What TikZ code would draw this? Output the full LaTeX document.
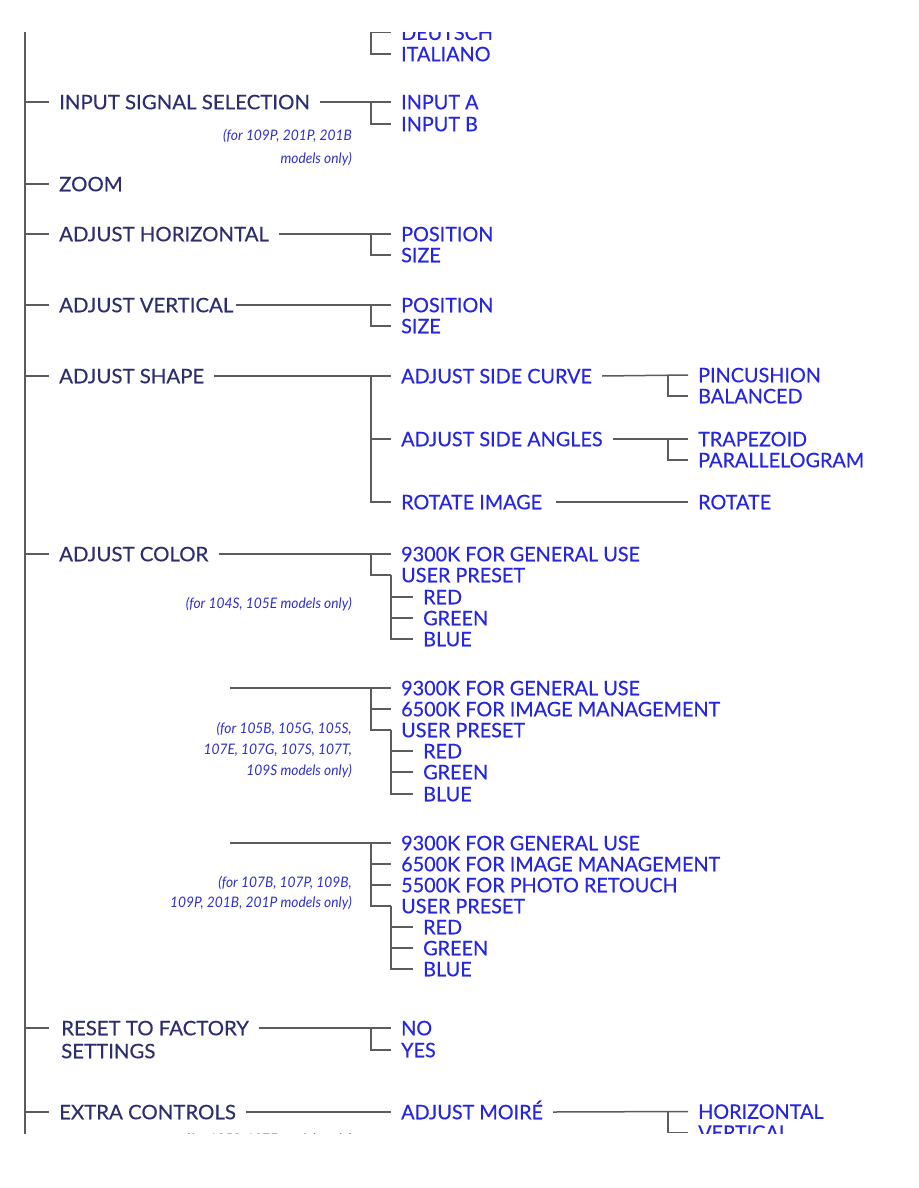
\documentclass[tikz,border=0pt]{standalone}
\usepackage{fontspec}
\setmainfont{Lato}
\newfontfamily\mainlblfont{Lato}[FakeStretch=1.02,FakeBold=0.35]
\newfontfamily\sublblfont{Lato}[FakeStretch=0.99,FakeBold=0.35]
\newfontfamily\notefont{Lato}[FakeStretch=0.95]
\newcommand\mymainf{\mainlblfont\fontsize{20}{23}\selectfont}
\newcommand\mysubf{\sublblfont\fontsize{20}{23}\selectfont}
\newcommand\mynotef{\notefont\itshape\fontsize{14.5}{21}\selectfont}
\newcommand\mynotefa{\notefont\itshape\fontsize{14.5}{23}\selectfont}
\newcommand\mynotefb{\notefont\itshape\fontsize{14.5}{20}\selectfont}
\definecolor{navy}{HTML}{2E2D6E}
\definecolor{bblue}{HTML}{2626E0}
\definecolor{nblue}{HTML}{3030C8}
\definecolor{lgray}{HTML}{5C5C5C}
\tikzset{
  mainl/.style={font=\mymainf, text=navy, anchor=west, inner xsep=10pt, inner ysep=0pt, text height=14.5pt, text depth=0pt},
  subl/.style={mainl, font=\mysubf, text=bblue},
  notel/.style={font=\mynotef, text=nblue, anchor=base east, inner sep=0pt, align=right},
  conn/.style={draw=lgray, line width=1.5pt},
  trunkl/.style={draw=lgray, line width=2pt}
}
\begin{document}
\begin{tikzpicture}[x=1pt,y=-1pt]
\useasboundingbox (0,0) rectangle (918,1188);
\begin{scope}
\clip (0,33) rectangle (918,1133.5);
\coordinate (ttop) at (25,0);
\coordinate (tbot) at (25,1188);
\draw[trunkl] (ttop) -- (tbot);

% languages (cut at top)
\coordinate (langtop) at (371,0);
\node[subl] (deu) at (391,32.7) {DEUTSCH};
\node[subl] (ita) at (391,54) {ITALIANO};
\draw[conn] (langtop) |- (deu.west);
\draw[conn] (langtop) |- (ita.west);

% input signal selection
\node[mainl] (iss) at (49,102) {INPUT SIGNAL SELECTION};
\draw[conn] (ttop |- iss.west) -- (iss.west);
\node[subl] (ina) at (391,102) {INPUT A};
\node[subl] (inb) at (391,124) {INPUT B};
\draw[conn] (iss.east) -- (ina.west);
\draw[conn] (ina.west) ++(-20,0) |- (inb.west);
\node[notel, font=\mynotefa] (issn) at (352,163) {(for 109P, 201P, 201B\\models only)};

% zoom
\node[mainl] (zoom) at (49,184) {ZOOM};
\draw[conn] (ttop |- zoom.west) -- (zoom.west);

% adjust horizontal
\node[mainl] (ah) at (49,234) {ADJUST HORIZONTAL};
\draw[conn] (ttop |- ah.west) -- (ah.west);
\node[subl] (ahp) at (391,234) {POSITION};
\node[subl] (ahs) at (391,255) {SIZE};
\draw[conn] (ah.east) -- (ahp.west);
\draw[conn] (ahp.west) ++(-20,0) |- (ahs.west);

% adjust vertical
\node[mainl] (av) at (49,305) {ADJUST VERTICAL};
\draw[conn] (ttop |- av.west) -- (av.west);
\node[subl] (avp) at (391,305) {POSITION};
\node[subl] (avs) at (391,326) {SIZE};
\draw[conn] ([xshift=-8pt]av.east) -- (avp.west);
\draw[conn] (avp.west) ++(-20,0) |- (avs.west);

% adjust shape
\node[mainl] (as) at (49,376) {ADJUST SHAPE};
\draw[conn] (ttop |- as.west) -- (as.west);
\node[subl] (asc) at (391,376) {ADJUST SIDE CURVE};
\node[subl] (asa) at (391,439) {ADJUST SIDE ANGLES};
\node[subl] (ri) at (391,502) {ROTATE IMAGE};
\draw[conn] (as.east) -- (asc.west);
\draw[conn] (asc.west) ++(-20,0) |- (asa.west);
\draw[conn] (asc.west) ++(-20,0) |- (ri.west);
\node[subl] (pin) at (688,375) {PINCUSHION};
\node[subl] (bal) at (688,396) {BALANCED};
\draw[conn] (asc.east) -- (pin.west);
\draw[conn] (pin.west) ++(-20,0) |- (bal.west);
\node[subl] (tra) at (688,439) {TRAPEZOID};
\node[subl] (par) at (688,460) {PARALLELOGRAM};
\draw[conn] (asa.east) -- (tra.west);
\draw[conn] (tra.west) ++(-20,0) |- (par.west);
\node[subl] (rot) at (688,502) {ROTATE};
\draw[conn] ([xshift=4pt]ri.east) -- (rot.west);

% adjust color, block 1
\node[mainl] (ac) at (49,554) {ADJUST COLOR};
\draw[conn] (ttop |- ac.west) -- (ac.west);
\node[subl] (ca1) at (391,554) {9300K FOR GENERAL USE};
\node[subl] (cu1) at (391,575) {USER PRESET};
\node[subl] (cr1) at (413,597) {RED};
\node[subl] (cg1) at (413,618) {GREEN};
\node[subl] (cb1) at (413,639) {BLUE};
\draw[conn] (ac.east) -- (ca1.west);
\draw[conn] (ca1.west) ++(-20,0) |- (cu1.west);
\draw[conn] (cu1.west) |- (cr1.west);
\draw[conn] (cu1.west) |- (cg1.west);
\draw[conn] (cu1.west) |- (cb1.west);
\node[notel] (acn1) at (352,608.5) {(for 104S, 105E models only)};

% block 2
\coordinate (s2) at (230,688);
\node[subl] (ca2) at (391,688) {9300K FOR GENERAL USE};
\node[subl] (cm2) at (391,709) {6500K FOR IMAGE MANAGEMENT};
\node[subl] (cu2) at (391,730) {USER PRESET};
\node[subl] (cr2) at (413,751) {RED};
\node[subl] (cg2) at (413,772) {GREEN};
\node[subl] (cb2) at (413,794) {BLUE};
\draw[conn] (s2) -- (ca2.west);
\draw[conn] (ca2.west) ++(-20,0) |- (cm2.west);
\draw[conn] (ca2.west) ++(-20,0) |- (cu2.west);
\draw[conn] (cu2.west) |- (cr2.west);
\draw[conn] (cu2.west) |- (cg2.west);
\draw[conn] (cu2.west) |- (cb2.west);
\node[notel] (acn2) at (352,775.5) {(for 105B, 105G, 105S,\\107E, 107G, 107S, 107T,\\109S models only)};

% block 3
\coordinate (s3) at (230,843);
\node[subl] (ca3) at (391,843) {9300K FOR GENERAL USE};
\node[subl] (cm3) at (391,864) {6500K FOR IMAGE MANAGEMENT};
\node[subl] (cp3) at (391,885) {5500K FOR PHOTO RETOUCH};
\node[subl] (cu3) at (391,906) {USER PRESET};
\node[subl] (cr3) at (413,927) {RED};
\node[subl] (cg3) at (413,948) {GREEN};
\node[subl] (cb3) at (413,969) {BLUE};
\draw[conn] (s3) -- (ca3.west);
\draw[conn] (ca3.west) ++(-20,0) |- (cm3.west);
\draw[conn] (ca3.west) ++(-20,0) |- (cp3.west);
\draw[conn] (ca3.west) ++(-20,0) |- (cu3.west);
\draw[conn] (cu3.west) |- (cr3.west);
\draw[conn] (cu3.west) |- (cg3.west);
\draw[conn] (cu3.west) |- (cb3.west);
\node[notel, font=\mynotefb] (acn3) at (352,907.5) {(for 107B, 107P, 109B,\\109P, 201B, 201P models only)};

% reset
\node[mainl, align=left, anchor=base west] (rst) at (51,1058.25) {RESET TO FACTORY\\SETTINGS};
\node[subl] (no) at (391,1028) {NO};
\node[subl] (yes) at (391,1050) {YES};
\draw[conn] (ttop |- no.west) -- ([yshift=30.25pt,xshift=-2pt]rst.base west);
\draw[conn] ([yshift=30.25pt]rst.base east) -- (no.west);
\draw[conn] (no.west) ++(-20,0) |- (yes.west);

% extra controls
\node[mainl] (ec) at (49,1112) {EXTRA CONTROLS};
\draw[conn] (ttop |- ec.west) -- (ec.west);
\node[subl] (am) at (391,1112) {ADJUST MOIRÉ};
\draw[conn] (ec.east) -- (am.west);
\node[subl] (mh) at (688,1111.5) {HORIZONTAL};
\node[subl] (mv) at (688,1132.5) {VERTICAL};
\draw[conn] (am.east) -- (mh.west);
\draw[conn] (mh.west) ++(-20,0) |- (mv.west);
\node[notel] (ecn) at (352,1144.5) {(for 105S, 107E models only)};
\end{scope}
\end{tikzpicture}
\end{document}
